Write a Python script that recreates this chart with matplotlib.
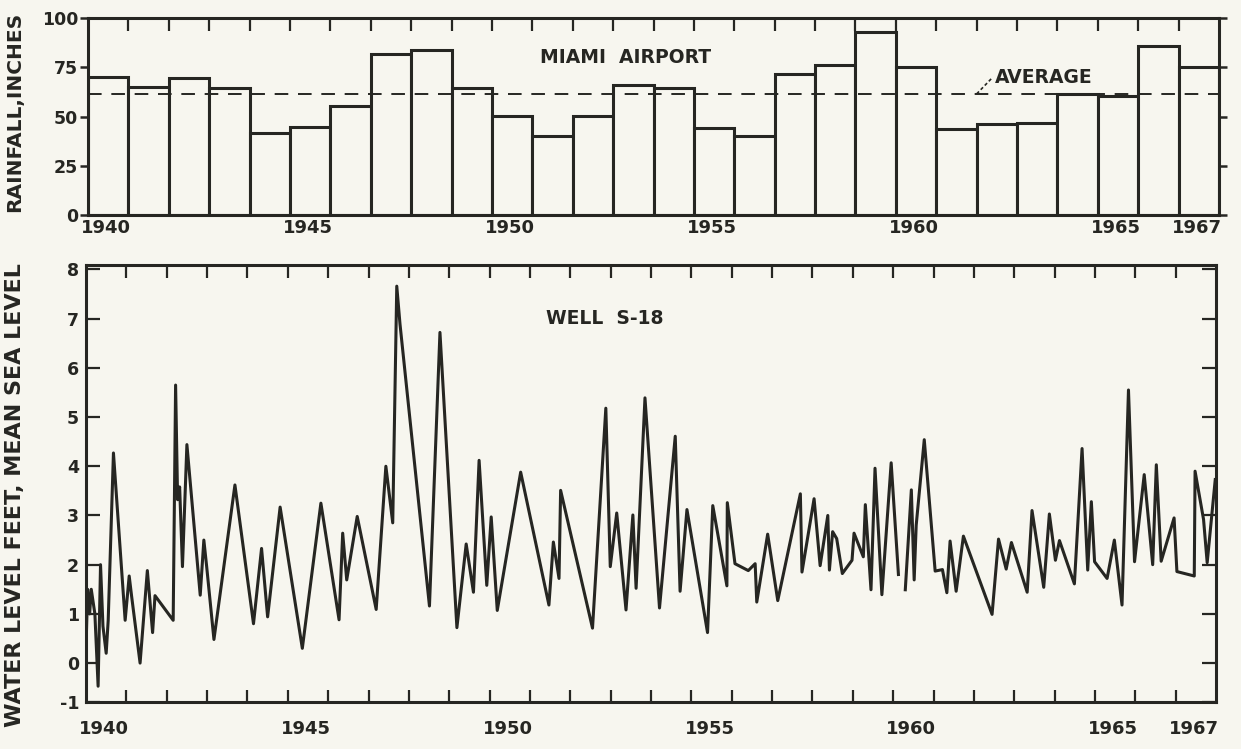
import matplotlib
matplotlib.use('Agg')
import matplotlib.pyplot as plt
import numpy as np

# colours of the scanned sheet
ink = '#262622'
paper = '#f7f6ef'

# annual rainfall, Miami Airport (inches)
rain_years = list(range(1940, 1968))
rain_inches = [70.0, 65.2, 69.6, 64.7, 41.5, 44.7, 55.6, 81.7, 83.7, 64.7,
               50.3, 40.2, 50.3, 66.0, 64.7, 44.4, 40.2, 71.4, 76.4, 92.8,
               75.3, 43.6, 46.1, 46.6, 61.3, 60.5, 85.7, 75.1]
rain_avg = 61.5

# water level, well S-18 (feet above mean sea level), nan = break in record
well_year = [1940.00, 1940.04, 1940.09, 1940.13, 1940.22, 1940.30, 1940.36, 1940.42, 1940.50, 1940.55,
             1940.68, 1940.97, 1941.07, 1941.13, 1941.34, 1941.52, 1941.65, 1941.71, 1942.16, 1942.22,
             1942.27, 1942.32, 1942.39, 1942.50, 1942.83, 1942.92, 1942.99, 1943.17, 1943.69, 1944.15,
             1944.35, 1944.50, 1944.81, 1945.36, 1945.82, 1946.27, 1946.36, 1946.46, 1946.72, 1947.19,
             1947.43, 1947.60, 1947.70, 1947.78, 1948.51, 1948.77, 1949.19, 1949.42, 1949.60, 1949.74,
             1949.93, 1950.04, 1950.19, 1950.77, 1951.47, 1951.58, 1951.72, 1951.76, 1952.55, 1952.88,
             1952.99, 1953.15, 1953.38, 1953.55, 1953.63, 1953.85, 1954.21, 1954.60, 1954.72, 1954.89,
             1955.40, 1955.53, 1955.88, 1955.89, 1956.08, 1956.41, 1956.58, 1956.62, 1956.89, 1957.14,
             1957.70, 1957.74, 1958.04, 1958.19, 1958.38, 1958.42, 1958.50, 1958.60, 1958.74, 1958.98,
             1959.03, 1959.26, 1959.31, 1959.45, 1959.55, 1959.72, 1959.95, 1960.13, 1960.20, 1960.30,
             1960.45, 1960.52, 1960.57, 1960.77, 1961.04, 1961.22, 1961.33, 1961.41, 1961.56, 1961.74,
             1962.45, 1962.61, 1962.80, 1962.93, 1963.32, 1963.44, 1963.73, 1963.87, 1964.02, 1964.12,
             1964.49, 1964.68, 1964.82, 1964.91, 1964.99, 1965.30, 1965.48, 1965.67, 1965.83, 1965.98,
             1966.22, 1966.43, 1966.52, 1966.64, 1966.96, 1967.03, 1967.46, 1967.48, 1967.69, 1967.78,
             1967.98]
well_level = [0.30, 1.50, 1.00, 1.50, 1.00, -0.47, 2.00, 0.75, 0.20, 0.87,
              4.27, 0.87, 1.77, 1.36, 0.00, 1.88, 0.62, 1.37, 0.87, 5.65,
              3.32, 3.58, 1.96, 4.44, 1.38, 2.50, 1.96, 0.48, 3.62, 0.80,
              2.33, 0.94, 3.17, 0.30, 3.25, 0.88, 2.64, 1.69, 2.98, 1.09,
              4.00, 2.85, 7.66, 6.89, 1.16, 6.72, 0.72, 2.42, 1.44, 4.12,
              1.58, 2.97, 1.07, 3.88, 1.18, 2.46, 1.72, 3.51, 0.71, 5.18,
              1.96, 3.05, 1.08, 3.01, 1.52, 5.39, 1.12, 4.61, 1.46, 3.12,
              0.62, 3.20, 1.57, 3.26, 2.02, 1.88, 2.02, 1.24, 2.62, 1.27,
              3.44, 1.85, 3.34, 1.98, 3.00, 1.89, 2.67, 2.53, 1.82, 2.09,
              2.64, 2.16, 3.22, 1.49, 3.96, 1.39, 4.07, 1.80, np.nan, 1.49,
              3.52, 1.69, 2.80, 4.54, 1.87, 1.90, 1.43, 2.48, 1.46, 2.58,
              0.99, 2.52, 1.91, 2.45, 1.44, 3.10, 1.54, 3.03, 2.09, 2.49,
              1.61, 4.36, 1.89, 3.28, 2.06, 1.72, 2.50, 1.18, 5.55, 2.06,
              3.83, 2.00, 4.03, 2.07, 2.95, 1.86, 1.77, 3.90, 2.92, 2.04,
              3.73]

label_years = [1940, 1945, 1950, 1955, 1960, 1965, 1967]
level_ticks = [0, 1, 2, 3, 4, 5, 6, 7, 8]

plt.rcParams['font.family'] = ['DejaVu Sans']
plt.rcParams['font.weight'] = 'bold'

fig = plt.figure(figsize=(12.41, 7.49), dpi=100, facecolor=paper)

# ---- rainfall bars ----
ax1 = fig.add_axes([0.0709, 0.7129, 0.9114, 0.263], facecolor=paper)
ax1.bar(rain_years, rain_inches, width=1, align='edge', facecolor=paper,
        edgecolor=ink, linewidth=2.2)
ax1.axhline(rain_avg, color=ink, lw=1.4, dashes=(7, 5))
ax1.set_xlim(1940, 1968)
ax1.set_ylim(0, 100)
ax1.set_yticks([0, 25, 50, 75, 100])
ax1.tick_params(axis='y', direction='out', length=6, width=1.8, left=True,
                right=True, labelsize=12.5, pad=1, colors=ink)
ax1.set_xticks([y + 0.45 for y in label_years])
ax1.set_xticklabels([str(y) for y in label_years])
ax1.set_xticks(range(1941, 1968), minor=True)
ax1.tick_params(axis='x', which='major', length=0, pad=3, labelsize=13, colors=ink)
ax1.tick_params(axis='x', which='minor', direction='in', top=True, bottom=False,
                length=9, width=1.6, color=ink)
for s in ax1.spines.values():
    s.set_linewidth(2.2)
    s.set_color(ink)
ax1.text(1953.3, 80, 'MIAMI  AIRPORT', ha='center', va='center', fontsize=13.5, color=ink)
ax1.text(1962.45, 70, 'AVERAGE', ha='left', va='center', fontsize=13.5, color=ink)
ax1.plot([1962.0, 1962.4], [rain_avg, 70], color=ink, lw=1.2, dashes=(2, 1.5))

# ---- well water level ----
ax2 = fig.add_axes([0.0693, 0.0628, 0.9106, 0.5834], facecolor=paper)
ax2.plot(well_year, well_level, color=ink, lw=2.2)
ax2.set_xlim(1940, 1968)
ybot = -0.79
ax2.set_ylim(ybot, 8.09)
ax2.set_yticks([ybot] + level_ticks)
ax2.set_yticklabels(['-1'] + [str(v) for v in level_ticks])
ax2.tick_params(axis='y', direction='in', length=10, width=1.6, left=True,
                right=True, labelsize=12.5, pad=5, colors=ink)
ax2.set_xticks([y + 0.45 for y in label_years])
ax2.set_xticklabels([str(y) for y in label_years])
ax2.set_xticks(range(1941, 1968), minor=True)
ax2.tick_params(axis='x', which='major', length=0, pad=13, labelsize=13, colors=ink)
ax2.tick_params(axis='x', which='minor', direction='in', top=True, bottom=True,
                length=9, width=1.6, color=ink)
for s in ax2.spines.values():
    s.set_linewidth(2.2)
    s.set_color(ink)
ax2.text(1952.86, 7.0, 'WELL  S-18', ha='center', va='center', fontsize=13.5, color=ink)

# axis titles
fig.text(0.012, 0.85, 'RAINFALL,INCHES', rotation=90, ha='center', va='center',
         fontsize=14.5, color=ink)
fig.text(0.012, 0.339, 'WATER LEVEL FEET, MEAN SEA LEVEL', rotation=90, ha='center',
         va='center', fontsize=16, color=ink)

fig.savefig('out.png', dpi=100, facecolor=paper)
